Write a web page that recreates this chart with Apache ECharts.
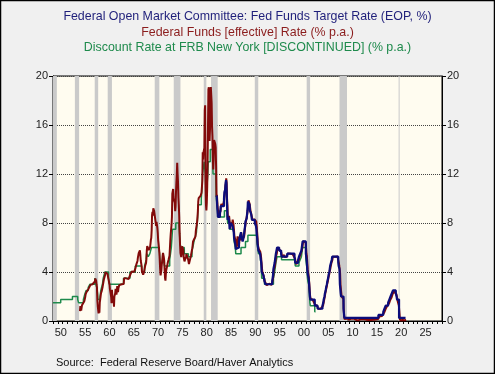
<!DOCTYPE html>
<html><head><meta charset="utf-8">
<script src="https://cdn.jsdelivr.net/npm/echarts@6/dist/echarts.min.js"></script>
<style>html,body{margin:0;padding:0;background:#f0f0f0}#c{width:495px;height:374px}</style>
</head><body><div id="c"></div>
<script>
// ---- text ----
const titleLines = [
  'Federal Open Market Committee: Fed Funds Target Rate (EOP, %)',
  'Federal Funds [effective] Rate (% p.a.)',
  'Discount Rate at FRB New York [DISCONTINUED] (% p.a.)'
];
const sourceText = 'Source:  Federal Reserve Board/Haver Analytics';

// ---- axes ----
const xMin = 1949, xMax = 2029;
const yTicks = [0, 4, 8, 12, 16, 20];

// ---- NBER recessions [start, end] in decimal years ----
const recessions = [
  [1948.83, 1949.79], [1953.50, 1954.37], [1957.58, 1958.29], [1960.25, 1961.12],
  [1969.92, 1970.87], [1973.83, 1975.21], [1980.00, 1980.54], [1981.50, 1982.87],
  [1990.50, 1991.21], [2001.17, 2001.87], [2007.92, 2009.46], [2020.08, 2020.29]
];

// ---- Discount rate at FRB New York: [year, month, rate] (change dates) ----
const discountRate = [
  [1949,1,1.5],[1950,8,1.75],[1953,1,2.0],[1954,2,1.75],[1954,4,1.5],[1955,4,1.75],[1955,8,2.25],
  [1955,11,2.5],[1956,4,2.75],[1956,8,3.0],[1957,8,3.5],[1957,11,3.0],[1958,1,2.75],[1958,3,2.25],
  [1958,4,1.75],[1958,9,2.0],[1958,11,2.5],[1959,3,3.0],[1959,5,3.5],[1959,9,4.0],[1960,6,3.5],
  [1960,8,3.0],[1963,7,3.5],[1964,11,4.0],[1965,12,4.5],[1967,4,4.0],[1967,11,4.5],[1968,3,5.0],
  [1968,4,5.5],[1968,8,5.25],[1968,12,5.5],[1969,4,6.0],[1970,11,5.75],[1970,12,5.5],[1971,1,5.0],
  [1971,2,4.75],[1971,7,5.0],[1971,11,4.75],[1971,12,4.5],[1973,1,5.0],[1973,3,5.5],[1973,5,6.0],
  [1973,6,6.5],[1973,7,7.0],[1973,8,7.5],[1974,4,8.0],[1974,12,7.75],[1975,1,7.25],[1975,2,6.75],
  [1975,3,6.25],[1975,5,6.0],[1976,1,5.5],[1976,11,5.25],[1977,8,5.75],[1977,10,6.0],[1978,1,6.5],
  [1978,5,7.0],[1978,7,7.25],[1978,8,7.75],[1978,9,8.0],[1978,10,8.5],[1978,11,9.5],[1979,7,10.0],
  [1979,8,10.5],[1979,9,11.0],[1979,10,12.0],[1980,2,13.0],[1980,5,12.0],[1980,6,11.0],[1980,7,10.0],
  [1980,9,11.0],[1980,11,12.0],[1980,12,13.0],[1981,5,14.0],[1981,11,13.0],[1981,12,12.0],[1982,7,11.5],
  [1982,8,10.0],[1982,10,9.5],[1982,11,9.0],[1982,12,8.5],[1984,4,9.0],[1984,11,8.5],[1984,12,8.0],
  [1985,5,7.5],[1986,3,7.0],[1986,4,6.5],[1986,7,6.0],[1986,8,5.5],[1987,9,6.0],[1988,8,6.5],
  [1989,2,7.0],[1990,12,6.5],[1991,2,6.0],[1991,4,5.5],[1991,9,5.0],[1991,11,4.5],[1991,12,3.5],
  [1992,7,3.0],[1994,5,3.5],[1994,8,4.0],[1994,11,4.75],[1995,2,5.25],[1996,1,5.0],[1998,10,4.75],
  [1998,11,4.5],[1999,8,4.75],[1999,11,5.0],[2000,2,5.25],[2000,3,5.5],[2000,5,6.0],[2001,1,5.0],
  [2001,3,4.5],[2001,4,4.0],[2001,5,3.5],[2001,6,3.25],[2001,8,3.0],[2001,9,2.5],[2001,10,2.0],
  [2001,11,1.5],[2001,12,1.25],[2002,11,0.75],[2003,1,0.75]
];

// ---- FOMC fed funds target (EOP): [year, month, rate] (change dates) ----
const fedTarget = [
  [1982,9,10.25],[1982,10,9.5],[1982,11,9.0],[1982,12,8.5],[1983,5,8.75],[1983,6,9.0],[1983,7,9.375],
  [1983,8,9.5],[1983,10,9.375],[1984,3,10.0],[1984,4,10.5],[1984,6,10.75],[1984,7,11.25],[1984,8,11.5],
  [1984,9,11.25],[1984,10,10.0],[1984,11,9.0],[1984,12,8.25],[1985,2,8.5],[1985,4,8.0],[1985,5,7.5],
  [1985,6,7.75],[1985,8,8.0],[1985,12,7.75],[1986,3,7.25],[1986,4,6.75],[1986,7,6.25],[1986,8,5.875],
  [1986,12,6.0],[1987,4,6.5],[1987,5,6.75],[1987,9,7.25],[1987,10,6.875],[1987,11,6.75],[1988,1,6.5],
  [1988,3,6.75],[1988,5,7.25],[1988,6,7.5],[1988,7,7.75],[1988,8,8.125],[1988,11,8.375],[1988,12,8.75],
  [1989,1,9.0],[1989,2,9.75],[1989,6,9.5],[1989,7,9.0],[1989,10,8.75],[1989,11,8.5],[1989,12,8.25],
  [1990,7,8.0],[1990,10,7.75],[1990,11,7.5],[1990,12,7.0],[1991,1,6.75],[1991,2,6.25],[1991,3,6.0],
  [1991,4,5.75],[1991,8,5.5],[1991,9,5.25],[1991,10,5.0],[1991,11,4.75],[1991,12,4.0],[1992,4,3.75],
  [1992,7,3.25],[1992,9,3.0],[1994,2,3.25],[1994,3,3.5],[1994,4,3.75],[1994,5,4.25],[1994,8,4.75],
  [1994,11,5.5],[1995,2,6.0],[1995,7,5.75],[1995,12,5.5],[1996,1,5.25],[1997,3,5.5],[1998,9,5.25],
  [1998,10,5.0],[1998,11,4.75],[1999,6,5.0],[1999,8,5.25],[1999,11,5.5],[2000,2,5.75],[2000,3,6.0],
  [2000,5,6.5],[2001,1,5.5],[2001,3,5.0],[2001,4,4.5],[2001,5,4.0],[2001,6,3.75],[2001,8,3.5],
  [2001,9,3.0],[2001,10,2.5],[2001,11,2.0],[2001,12,1.75],[2002,11,1.25],[2003,6,1.0],[2004,6,1.25],
  [2004,8,1.5],[2004,9,1.75],[2004,11,2.0],[2004,12,2.25],[2005,2,2.5],[2005,3,2.75],[2005,5,3.0],
  [2005,6,3.25],[2005,8,3.5],[2005,9,3.75],[2005,11,4.0],[2005,12,4.25],[2006,1,4.5],[2006,3,4.75],
  [2006,5,5.0],[2006,6,5.25],[2007,9,4.75],[2007,10,4.5],[2007,12,4.25],[2008,1,3.0],[2008,3,2.25],
  [2008,4,2.0],[2008,10,1.0],[2008,12,0.25],[2015,12,0.5],[2016,12,0.75],[2017,3,1.0],[2017,6,1.25],
  [2017,12,1.5],[2018,3,1.75],[2018,6,2.0],[2018,9,2.25],[2018,12,2.5],[2019,7,2.25],[2019,9,2.0],
  [2019,10,1.75],[2020,3,0.25],[2021,7,0.25]
];

// ---- Effective fed funds rate, monthly averages ----
const effStart1954 = 1954.5; // July 1954
const effective1954to59 = [
  0.80,1.22,1.06,0.85,0.83,1.28,
  1.39,1.29,1.35,1.43,1.43,1.64,1.68,1.96,2.18,2.24,2.35,2.48,
  2.45,2.50,2.50,2.62,2.75,2.71,2.75,2.73,2.95,2.96,2.88,2.94,
  2.84,3.00,2.96,3.00,3.00,3.00,2.99,3.24,3.47,3.50,3.28,2.98,
  2.72,1.67,1.20,1.26,0.63,0.93,0.68,1.53,1.76,1.80,2.27,2.42,
  2.48,2.43,2.80,2.96,2.90,3.39,3.47,3.50,3.76,3.98,4.00,3.99
];
const effective1960s = [
  3.99,3.97,3.84,3.92,3.85,3.32,3.23,2.98,2.60,2.47,2.44,1.98,
  1.45,2.54,2.02,1.49,1.98,1.73,1.17,2.00,1.88,2.26,2.62,2.33,
  2.15,2.37,2.85,2.78,2.36,2.68,2.71,2.93,2.90,2.90,2.94,2.93,
  2.92,3.00,2.98,2.90,3.00,2.99,3.02,3.49,3.48,3.50,3.48,3.38,
  3.48,3.48,3.43,3.47,3.50,3.50,3.42,3.50,3.45,3.36,3.52,3.85,
  3.90,3.98,4.04,4.09,4.10,4.04,4.09,4.12,4.01,4.08,4.10,4.32,
  4.42,4.60,4.65,4.67,4.90,5.17,5.30,5.53,5.40,5.53,5.76,5.40,
  4.94,5.00,4.53,4.05,3.94,3.98,3.79,3.90,3.99,3.88,4.13,4.51,
  4.61,4.71,5.05,5.76,6.11,6.07,6.02,6.03,5.78,5.91,5.82,6.02,
  6.30,6.61,6.79,7.41,8.67,8.90,8.61,9.19,9.15,9.00,8.85,8.97
];
const effective1970s = [
  8.98,8.98,7.76,8.10,7.94,7.60,7.21,6.61,6.29,6.20,5.60,4.90,
  4.14,3.72,3.71,4.16,4.63,4.91,5.31,5.56,5.55,5.20,4.91,4.14,
  3.50,3.29,3.83,4.17,4.27,4.46,4.55,4.80,4.87,5.04,5.06,5.33,
  5.94,6.58,7.09,7.12,7.84,8.49,10.40,10.50,10.78,10.01,10.03,9.95,
  9.65,8.97,9.35,10.51,11.31,11.93,12.92,12.01,11.34,10.06,9.45,8.53,
  7.13,6.24,5.54,5.49,5.22,5.55,6.10,6.14,6.24,5.82,5.22,5.20,
  4.87,4.77,4.84,4.82,5.29,5.48,5.31,5.29,5.25,5.03,4.95,4.65,
  4.61,4.68,4.69,4.73,5.35,5.39,5.42,5.90,6.14,6.47,6.51,6.56,
  6.70,6.78,6.79,6.89,7.36,7.60,7.81,8.04,8.45,8.96,9.76,10.03,
  10.07,10.06,10.09,10.01,10.24,10.29,10.47,10.94,11.43,13.77,13.18,13.78
];
const effective1980s = [
  13.82,14.13,17.19,17.61,10.98,9.47,9.03,9.61,10.87,12.81,15.85,18.90,
  19.08,15.93,14.70,15.72,18.52,19.10,19.04,17.82,15.87,15.08,13.31,12.37,
  13.22,14.78,14.68,14.94,14.45,14.15,12.59,10.12,10.31,9.71,9.20,8.95,
  8.68,8.51,8.77,8.80,8.63,8.98,9.37,9.56,9.45,9.48,9.34,9.47,
  9.56,9.59,9.91,10.29,10.32,11.06,11.23,11.64,11.30,9.99,9.43,8.38,
  8.35,8.50,8.58,8.27,7.97,7.53,7.88,7.90,7.92,7.99,8.05,8.27,
  8.14,7.86,7.48,6.99,6.85,6.92,6.56,6.17,5.89,5.85,6.04,6.91,
  6.43,6.10,6.13,6.37,6.85,6.73,6.58,6.73,7.22,7.29,6.69,6.77,
  6.83,6.58,6.58,6.87,7.09,7.51,7.75,8.01,8.19,8.30,8.35,8.76,
  9.12,9.36,9.85,9.84,9.81,9.53,9.24,8.99,9.02,8.84,8.55,8.45
];
const effective1990s = [
  8.23,8.24,8.28,8.26,8.18,8.29,8.15,8.13,8.20,8.11,7.81,7.31,
  6.91,6.25,6.12,5.91,5.78,5.90,5.82,5.66,5.45,5.21,4.81,4.43,
  4.03,4.06,3.98,3.73,3.82,3.76,3.25,3.30,3.22,3.10,3.09,2.92,
  3.02,3.03,3.07,2.96,3.00,3.04,3.06,3.03,3.09,2.99,3.02,2.96,
  3.05,3.25,3.34,3.56,4.01,4.25,4.26,4.47,4.73,4.76,5.29,5.45,
  5.53,5.92,5.98,6.05,6.01,6.00,5.85,5.74,5.80,5.76,5.80,5.60,
  5.56,5.22,5.31,5.22,5.24,5.27,5.40,5.22,5.30,5.24,5.31,5.29,
  5.25,5.19,5.39,5.51,5.50,5.56,5.52,5.54,5.54,5.50,5.52,5.50,
  5.56,5.51,5.49,5.45,5.49,5.56,5.54,5.55,5.51,5.07,4.83,4.68,
  4.63,4.76,4.81,4.74,4.74,4.76,4.99,5.07,5.22,5.20,5.42,5.30
];
const effective2000s = [
  5.45,5.73,5.85,6.02,6.27,6.53,6.54,6.50,6.52,6.51,6.51,6.40,
  5.98,5.49,5.31,4.80,4.21,3.97,3.77,3.65,3.07,2.49,2.09,1.82,
  1.73,1.74,1.73,1.75,1.75,1.75,1.73,1.74,1.75,1.75,1.34,1.24,
  1.24,1.26,1.25,1.26,1.26,1.22,1.01,1.03,1.01,1.01,1.00,0.98,
  1.00,1.01,1.00,1.00,1.00,1.03,1.26,1.43,1.61,1.76,1.93,2.16,
  2.28,2.50,2.63,2.79,3.00,3.04,3.26,3.50,3.62,3.78,4.00,4.16,
  4.29,4.49,4.59,4.79,4.94,4.99,5.24,5.25,5.25,5.25,5.25,5.24,
  5.25,5.26,5.26,5.25,5.25,5.25,5.26,5.02,4.94,4.76,4.49,4.24,
  3.94,2.98,2.61,2.28,1.98,2.00,2.01,2.00,1.81,0.97,0.39,0.16,
  0.15,0.22,0.18,0.15,0.18,0.21,0.16,0.16,0.15,0.12,0.12,0.12
];
// quarterly averages 2010Q1 - 2021Q3
const effective2010sQ = [
  0.13,0.19,0.19,0.19, 0.16,0.09,0.08,0.07, 0.10,0.15,0.14,0.16,
  0.14,0.11,0.09,0.09, 0.07,0.09,0.09,0.10, 0.11,0.13,0.14,0.16,
  0.36,0.37,0.40,0.45, 0.70,0.95,1.15,1.20, 1.45,1.74,1.92,2.22,
  2.40,2.40,2.19,1.64, 1.26,0.06,0.09,0.09, 0.08,0.07,0.09
];

// ---- build series data ----
const fromMonthly = (start, vals) => vals.map((v, i) => [start + (i + 0.5) / 12, v]);
const fromQuarterly = (start, vals) => vals.map((v, i) => [start + (i + 0.5) / 4, v]);
const fromChanges = rows => rows.map(r => [r[0] + (r[1] - 1) / 12, r[2]]);

const effData = [].concat(
  fromMonthly(effStart1954, effective1954to59),
  fromMonthly(1960, effective1960s),
  fromMonthly(1970, effective1970s),
  fromMonthly(1980, effective1980s),
  fromMonthly(1990, effective1990s),
  fromMonthly(2000, effective2000s),
  fromQuarterly(2010, effective2010sQ)
);

const FONT = '"Liberation Sans", Arial, sans-serif';
const chart = echarts.init(document.getElementById('c'), null, {renderer: 'canvas'});

const yAxisBase = {
  type: 'value', min: 0, max: 20, interval: 4,
  axisLine: {show: true, lineStyle: {color: '#000', width: 1}},
  axisTick: {show: true, length: 4, lineStyle: {color: '#000'}},
  axisLabel: {color: '#222', fontSize: 11, fontFamily: FONT, margin: 5}
};

chart.setOption({
  backgroundColor: '#f0f0f0',
  animation: false,
  graphic: [
    {type: 'rect', shape: {x: 0.5, y: 0.5, width: 494, height: 373}, style: {fill: null, stroke: '#000', lineWidth: 1.5}, silent: true, z: 100},
    {type: 'text', x: 247.5, y: 16.5, style: {text: titleLines[0], fill: '#1f1f7a', font: '12.4px ' + FONT, textAlign: 'center', textVerticalAlign: 'middle'}},
    {type: 'text', x: 247.5, y: 32.5, style: {text: titleLines[1], fill: '#8b1c1c', font: '12.4px ' + FONT, textAlign: 'center', textVerticalAlign: 'middle'}},
    {type: 'text', x: 247.5, y: 47.5, style: {text: titleLines[2], fill: '#1e8a4c', font: '12.4px ' + FONT, textAlign: 'center', textVerticalAlign: 'middle'}},
    {type: 'text', x: 56, y: 363, style: {text: sourceText, fill: '#111', font: '11px ' + FONT, textAlign: 'left', textVerticalAlign: 'middle'}}
  ],
  grid: {left: 53, top: 76, width: 389, height: 245, show: true, backgroundColor: '#fffcf0', borderColor: '#000', borderWidth: 1},
  xAxis: {
    type: 'value', min: xMin, max: xMax, interval: 1,
    axisLine: {show: true, onZero: false, lineStyle: {color: '#000'}},
    axisTick: {show: true, length: 3, lineStyle: {color: '#000'}},
    splitLine: {show: false},
    axisLabel: {
      color: '#222', fontSize: 11, fontFamily: FONT, margin: 6, padding: [0, 0, 0, 6],
      showMinLabel: true, showMaxLabel: true,
      formatter: v => (v % 5 === 0 ? String(v % 100).padStart(2, '0') : '')
    }
  },
  yAxis: [
    Object.assign({}, yAxisBase, {position: 'left',
      splitLine: {show: true, lineStyle: {color: '#444', type: [1, 1], width: 1}}}),
    Object.assign({}, yAxisBase, {position: 'right', splitLine: {show: false}})
  ],
  series: [
    {
      type: 'line', name: 'recessions', data: [], z: 1, silent: true,
      markArea: {silent: true, itemStyle: {color: '#cacaca'},
        data: recessions.map(r => [{xAxis: Math.max(r[0], xMin)}, {xAxis: r[1]}])}
    },
    {
      type: 'line', name: titleLines[2], data: fromChanges(discountRate), step: 'end',
      showSymbol: false, z: 3, lineStyle: {color: '#1e8a4c', width: 1.5}, itemStyle: {color: '#1e8a4c'}
    },
    {
      type: 'line', name: titleLines[1], data: effData,
      showSymbol: false, z: 4, lineStyle: {color: '#820a0a', width: 2}, itemStyle: {color: '#820a0a'}
    },
    {
      type: 'line', name: titleLines[0], data: fromChanges(fedTarget), step: 'end',
      showSymbol: false, z: 5, lineStyle: {color: '#0c0c7a', width: 2.2}, itemStyle: {color: '#0c0c7a'}
    }
  ]
});
</script></body></html>
